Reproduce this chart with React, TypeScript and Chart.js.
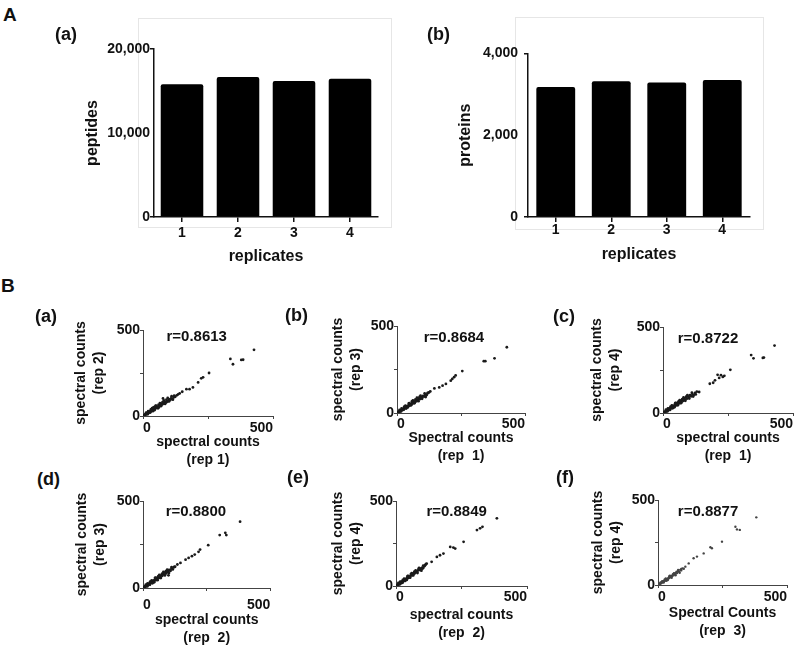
import React, { useEffect, useRef } from 'react';
import { Chart, registerables } from 'chart.js';

Chart.register(...registerables);

const FONT = "'Liberation Sans', Arial, Helvetica, sans-serif";
const INK = '#111';

// ---------- Panel A data ----------
const replicates = ['1', '2', '3', '4'];
const peptides = [15800, 16670, 16190, 16460];
const proteins = [3180, 3320, 3290, 3350];
const peptideMax = 20000;
const peptideStep = 10000;
const proteinMax = 4000;
const proteinStep = 2000;

// ---------- Panel B data (spectral counts, x = first rep, y = second rep) ----------
const rep1vs2 = [
  [427, 385], [336, 332], [346, 301], [378, 326], [385, 327], [254, 250], [231, 225], [224, 219],
  [212, 195], [192, 166], [179, 156], [167, 156], [151, 141], [141, 131], [77, 102],
  [2, 1], [3, 4], [5, 3], [6, 7], [8, 6], [9, 10], [11, 9], [12, 13], [14, 12], [15, 16], [17, 14],
  [18, 19], [20, 17], [22, 22], [24, 20], [25, 26], [27, 24], [29, 30], [31, 27], [33, 33], [35, 31],
  [37, 38], [39, 35], [41, 42], [44, 40], [46, 47], [48, 43], [51, 50], [53, 48], [56, 55], [58, 52],
  [61, 60], [64, 58], [66, 65], [69, 62], [72, 70], [75, 68], [78, 76], [81, 73], [85, 82], [88, 79],
  [92, 88], [96, 86], [100, 95], [104, 92], [108, 103], [113, 100], [118, 108], [124, 112], [130, 120],
  [135, 126], [40, 48], [60, 66], [90, 80],
  [20, 28], [28, 20], [35, 45], [45, 35], [50, 60], [58, 45], [65, 75], [70, 58], [80, 90], [85, 70],
  [95, 105], [100, 85], [110, 115], [115, 95], [30, 38], [38, 28], [55, 48], [48, 58], [75, 80],
  [90, 95], [105, 98], [120, 118], [12, 20], [18, 10], [42, 52], [62, 52]
];
const rep1vs3 = [
  [429, 378], [339, 298], [345, 298], [381, 314], [255, 241], [229, 216], [223, 206], [216, 196],
  [210, 186], [191, 167], [178, 157], [165, 147], [146, 141], [130, 124], [120, 115],
  [1, 2], [3, 2], [4, 5], [6, 4], [7, 8], [9, 7], [10, 11], [12, 10], [13, 14], [15, 13], [17, 17],
  [19, 16], [21, 21], [23, 19], [25, 25], [27, 23], [29, 29], [31, 27], [34, 33], [36, 31], [38, 38],
  [41, 36], [43, 42], [46, 40], [48, 47], [51, 45], [54, 53], [57, 50], [60, 59], [63, 56], [66, 65],
  [69, 61], [72, 70], [76, 67], [79, 77], [83, 74], [86, 84], [90, 80], [94, 91], [98, 88], [102, 98],
  [107, 95], [111, 106], [116, 103], [120, 114], [125, 118],
  [18, 26], [26, 18], [33, 42], [42, 32], [48, 57], [55, 44], [62, 72], [68, 56], [78, 88], [84, 68],
  [92, 100], [98, 82], [108, 112], [112, 92], [28, 36], [36, 26], [52, 46], [46, 55], [72, 78],
  [88, 92], [104, 96], [10, 18], [16, 9], [58, 66]
];
const rep1vs4 = [
  [429, 392], [339, 337], [348, 318], [384, 320], [388, 322], [259, 251], [236, 216], [230, 210],
  [223, 220], [210, 222], [216, 204], [200, 190], [193, 176], [180, 170], [139, 122], [126, 108],
  [2, 2], [3, 5], [5, 3], [7, 7], [8, 5], [10, 11], [12, 9], [13, 15], [15, 12], [17, 18], [19, 15],
  [21, 22], [23, 19], [25, 27], [28, 24], [30, 31], [32, 28], [35, 36], [37, 33], [40, 41], [42, 37],
  [45, 46], [48, 42], [50, 52], [53, 47], [56, 58], [59, 52], [62, 64], [65, 58], [68, 70], [71, 63],
  [74, 76], [78, 70], [81, 83], [85, 76], [88, 90], [92, 83], [96, 97], [100, 90], [104, 104],
  [109, 97], [113, 110], [118, 104], [123, 117], [130, 124],
  [19, 27], [27, 18], [34, 44], [44, 33], [49, 59], [57, 45], [64, 74], [69, 57], [79, 90], [86, 71],
  [94, 104], [101, 84], [111, 118], [116, 96], [29, 37], [37, 27], [54, 48], [47, 57], [74, 80],
  [90, 96], [106, 100], [11, 19], [17, 9], [60, 68]
];
const rep2vs3 = [
  [381, 381], [301, 304], [323, 317], [327, 304], [256, 246], [224, 221], [218, 208], [203, 192],
  [192, 183], [179, 173], [167, 163], [147, 144], [135, 135], [100, 73], [122, 121],
  [1, 1], [3, 3], [4, 6], [6, 4], [8, 8], [9, 11], [11, 9], [13, 14], [14, 12], [16, 17], [18, 15],
  [20, 21], [22, 19], [24, 25], [26, 23], [28, 29], [30, 27], [33, 34], [35, 31], [38, 39], [40, 36],
  [43, 44], [45, 41], [48, 50], [51, 46], [54, 56], [57, 52], [60, 62], [63, 58], [66, 69], [69, 64],
  [73, 76], [76, 70], [80, 83], [83, 77], [87, 90], [91, 84], [95, 97], [99, 91], [103, 104],
  [108, 99], [112, 112], [117, 107], [121, 119], [126, 122],
  [18, 27], [27, 18], [34, 44], [44, 33], [50, 60], [57, 45], [64, 75], [70, 57], [80, 92], [86, 72],
  [95, 106], [102, 86], [112, 120], [28, 37], [37, 27], [54, 48], [47, 58], [75, 82], [90, 97],
  [106, 101], [11, 19], [17, 9], [60, 68]
];
const rep2vs4 = [
  [385, 398], [309, 329], [321, 339], [330, 348], [258, 260], [226, 220], [219, 226], [207, 230],
  [181, 191], [168, 181], [156, 171], [136, 142], [117, 132],
  [1, 2], [2, 4], [4, 3], [5, 6], [7, 8], [8, 6], [10, 11], [11, 13], [13, 12], [14, 16], [16, 18],
  [18, 16], [20, 22], [22, 25], [24, 23], [26, 29], [28, 31], [30, 29], [33, 36], [35, 39], [37, 37],
  [40, 43], [42, 47], [45, 45], [47, 51], [50, 55], [53, 53], [56, 61], [59, 65], [62, 63], [65, 71],
  [68, 75], [71, 73], [75, 81], [78, 85], [81, 83], [85, 92], [89, 96], [92, 94], [96, 104],
  [100, 108], [104, 106], [108, 116], [111, 122], [114, 128],
  [16, 26], [25, 19], [31, 43], [41, 36], [46, 60], [54, 49], [60, 76], [66, 62], [75, 92], [82, 76],
  [88, 106], [97, 90], [104, 120], [26, 36], [35, 30], [52, 52], [44, 58], [70, 84], [86, 100],
  [100, 102], [9, 18], [15, 10], [57, 70]
];
const rep3vs4 = [
  [381, 398], [300, 343], [306, 327], [317, 324], [248, 255], [209, 216], [203, 222], [177, 186],
  [151, 167], [138, 157], [119, 127],
  [1, 1], [3, 3], [4, 5], [6, 5], [7, 8], [9, 8], [10, 11], [12, 11], [13, 14], [15, 14], [17, 18],
  [19, 17], [21, 22], [23, 21], [25, 26], [27, 25], [30, 31], [32, 30], [35, 36], [37, 34], [40, 41],
  [42, 40], [45, 47], [48, 45], [51, 53], [54, 51], [57, 59], [60, 57], [63, 66], [67, 63], [70, 73],
  [74, 70], [78, 81], [82, 78], [86, 89], [90, 86], [95, 98], [100, 96], [106, 108],
  [16, 22], [22, 15], [30, 38], [38, 29], [46, 54], [53, 43], [62, 70], [68, 57], [78, 88], [84, 72],
  [26, 32], [33, 25], [50, 48], [44, 52], [72, 78], [90, 94], [10, 15], [58, 64]
];
const rValues = ['r=0.8613', 'r=0.8684', 'r=0.8722', 'r=0.8800', 'r=0.8849', 'r=0.8877'];
const xTitles = [
  ['spectral counts', '(rep 1)'],
  ['Spectral counts', '(rep  1)'],
  ['spectral counts', '(rep  1)'],
  ['spectral counts', '(rep  2)'],
  ['spectral counts', '(rep  2)'],
  ['Spectral Counts', '(rep  3)']
];
const yTitles = [
  ['spectral counts', '(rep 2)'],
  ['spectral counts', '(rep 3)'],
  ['spectral counts', '(rep 4)'],
  ['spectral counts', '(rep 3)'],
  ['spectral counts', '(rep 4)'],
  ['spectral counts', '(rep 4)']
];
const countMax = 500;
const countStep = 250;

// ---------- layout helpers ----------
type Box = { L: number; T: number; R: number; B: number; yEdge: number; xH: number; pt?: number; pr?: number; pb?: number };

function frame(b: Box) {
  const padTop = b.pt ?? 10;
  const padRight = b.pr ?? 3;
  const padBottom = b.pb ?? 2;
  const cl = Math.floor(b.yEdge);
  const ct = Math.floor(b.T - padTop);
  const cw = Math.ceil(b.R + padRight) - cl;
  const ch = Math.ceil(b.B + b.xH + padBottom) - ct;
  return {
    cl, ct, cw, ch,
    padding: { left: b.yEdge - cl, top: b.T - ct, right: cl + cw - b.R, bottom: ct + ch - b.B - b.xH },
    yW: b.L - b.yEdge,
    xH: b.xH
  };
}

const rPlugin = {
  id: 'rLabel',
  afterDraw(chart: any, _args: any, opts: any) {
    const { ctx, chartArea } = chart;
    ctx.save();
    ctx.font = `bold 15px ${FONT}`;
    ctx.fillStyle = INK;
    ctx.textAlign = 'center';
    ctx.textBaseline = 'middle';
    ctx.fillText(opts.text, chartArea.left + opts.fx * (chartArea.right - chartArea.left), chartArea.top + opts.dy);
    ctx.restore();
  }
};

function ChartBox({ build, f }: { build: () => any; f: any }) {
  const ref = useRef<HTMLCanvasElement>(null);
  useEffect(() => {
    const chart = new Chart(ref.current as HTMLCanvasElement, build());
    return () => chart.destroy();
  }, []);
  return (
    <canvas
      ref={ref}
      width={f.cw}
      height={f.ch}
      style={{ position: 'absolute', left: f.cl, top: f.ct, width: f.cw, height: f.ch }}
    />
  );
}

function barConfig(values: number[], max: number, step: number, yTitle: string, f: any, o: any) {
  const tickFont = { family: FONT, size: 14, weight: 'bold' as const };
  const titleFont = { family: FONT, size: 16, weight: 'bold' as const, lineHeight: 1.2 };
  return {
    type: 'bar',
    data: {
      labels: replicates,
      datasets: [{ data: values, backgroundColor: '#000', borderRadius: 2, barPercentage: o.barPct, categoryPercentage: 1 }]
    },
    options: {
      animation: false,
      responsive: false,
      devicePixelRatio: 1,
      layout: { padding: f.padding },
      plugins: { legend: { display: false }, tooltip: { enabled: false } },
      scales: {
        x: {
          afterFit: (s: any) => { s.height = f.xH; },
          grid: { offset: false, drawOnChartArea: false, drawTicks: true, tickLength: 5, color: INK, lineWidth: 1.5 },
          border: { display: true, color: INK, width: 1.5 },
          ticks: { font: tickFont, color: INK, padding: o.xPad, maxRotation: 0 },
          title: { display: true, text: 'replicates', font: titleFont, color: INK, padding: 0 }
        },
        y: {
          min: 0,
          max,
          afterFit: (s: any) => { s.width = f.yW; },
          grid: {
            drawOnChartArea: false,
            drawTicks: true,
            tickLength: 4,
            lineWidth: 1.5,
            color: (c: any) => (c.tick && c.tick.value === step ? 'rgba(0,0,0,0)' : INK)
          },
          border: { display: true, color: INK, width: 1.5 },
          ticks: {
            stepSize: step,
            font: tickFont,
            color: INK,
            padding: o.yPad,
            callback: (v: any) => Number(v).toLocaleString('en-US')
          },
          title: { display: true, text: yTitle, font: titleFont, color: INK, padding: 0 }
        }
      }
    }
  };
}

function scatterConfig(points: number[][], idx: number, f: any, o: any) {
  const tickFont = { family: FONT, size: 14, weight: 'bold' as const, lineHeight: 1.2 };
  const titleFont = { family: FONT, size: 14, weight: 'bold' as const, lineHeight: 1.3 };
  const tickCb = (v: any) => (Number(v) === countStep ? '' : String(v));
  return {
    type: 'scatter',
    data: {
      datasets: [{
        data: points.map(([x, y]) => ({ x, y })),
        pointRadius: o.radius,
        pointBackgroundColor: o.color,
        pointBorderWidth: 0,
        pointHoverRadius: o.radius
      }]
    },
    options: {
      animation: false,
      responsive: false,
      devicePixelRatio: 1,
      layout: { padding: f.padding },
      plugins: {
        legend: { display: false },
        tooltip: { enabled: false },
        rLabel: { text: rValues[idx], fx: o.fx, dy: o.dy }
      },
      scales: {
        x: {
          type: 'linear',
          position: 'bottom',
          min: 0,
          max: countMax,
          afterFit: (s: any) => { s.height = f.xH; },
          grid: { display: true, drawOnChartArea: false, drawTicks: true, tickLength: 3, color: '#444', lineWidth: 1 },
          border: { display: true, color: '#444', width: 1 },
          ticks: { stepSize: countStep, callback: tickCb, align: 'inner', font: tickFont, color: INK, padding: o.xPad, maxRotation: 0, autoSkip: false },
          title: { display: true, text: xTitles[idx], font: titleFont, color: INK, padding: 0 }
        },
        y: {
          type: 'linear',
          position: 'left',
          min: 0,
          max: countMax,
          afterFit: (s: any) => { s.width = f.yW; },
          grid: { display: true, drawOnChartArea: false, drawTicks: true, tickLength: 3, color: '#444', lineWidth: 1 },
          border: { display: true, color: '#444', width: 1 },
          ticks: { stepSize: countStep, callback: tickCb, font: tickFont, color: INK, padding: 0, autoSkip: false },
          title: { display: true, text: yTitles[idx], font: titleFont, color: INK, padding: 0 }
        }
      }
    },
    plugins: [rPlugin]
  };
}

// geometry (pixel boxes of each plot)
const barBoxA = frame({ L: 154, T: 49, R: 378, B: 217, yEdge: 83, xH: 49.3 });
const barBoxB = frame({ L: 528, T: 49, R: 750, B: 217, yEdge: 456.4, xH: 47.6 });

const scatterSpecs = [
  { pts: rep1vs2, box: { L: 143, T: 330, R: 273, B: 416, yEdge: 71.9, xH: 53.3 }, xPad: 0.6, fx: 0.413, dy: 7, radius: 1.4, color: '#1a1a1a' },
  { pts: rep1vs3, box: { L: 397, T: 326, R: 525, B: 413, yEdge: 328.9, xH: 52.3 }, xPad: 0, fx: 0.445, dy: 12, radius: 1.4, color: '#1a1a1a' },
  { pts: rep1vs4, box: { L: 663, T: 327, R: 793, B: 413, yEdge: 587.9, xH: 52.3 }, xPad: 0, fx: 0.346, dy: 12, radius: 1.4, color: '#1a1a1a' },
  { pts: rep2vs3, box: { L: 143, T: 501, R: 273, B: 588, yEdge: 72.9, xH: 59.3, pb: 0 }, xPad: 5.6, fx: 0.415, dy: 11, radius: 1.4, color: '#1a1a1a' },
  { pts: rep2vs4, box: { L: 396, T: 501, R: 527, B: 586, yEdge: 328.9, xH: 56.3, pb: 0 }, xPad: 0, fx: 0.463, dy: 11, radius: 1.4, color: '#1a1a1a' },
  { pts: rep3vs4, box: { L: 658, T: 500, R: 787, B: 585, yEdge: 588.9, xH: 55.3, pb: 0 }, xPad: 0.6, fx: 0.388, dy: 12, radius: 1.2, color: '#444' }
];

const panelLabels = [
  { text: 'A', left: 3, top: 4.5, size: 19 },
  { text: '(a)', left: 55, top: 25, size: 18 },
  { text: '(b)', left: 427, top: 25, size: 18 },
  { text: 'B', left: 1, top: 275.5, size: 19 },
  { text: '(a)', left: 35, top: 307, size: 18 },
  { text: '(b)', left: 285, top: 306, size: 18 },
  { text: '(c)', left: 553, top: 307, size: 18 },
  { text: '(d)', left: 37, top: 470, size: 18 },
  { text: '(e)', left: 287, top: 468, size: 18 },
  { text: '(f)', left: 556, top: 468, size: 18 }
];

export default function App() {
  return (
    <div style={{ position: 'absolute', left: 0, top: 0, width: 800, height: 645, overflow: 'hidden', background: '#fff' }}>
      <div style={{ position: 'absolute', left: 138, top: 18, width: 252, height: 208, border: '1px solid #e6e6e6' }} />
      <div style={{ position: 'absolute', left: 515, top: 17, width: 247, height: 211, border: '1px solid #e6e6e6' }} />
      <ChartBox f={barBoxA} build={() => barConfig(peptides, peptideMax, peptideStep, 'peptides', barBoxA, { barPct: 0.76, xPad: 2.6, yPad: 0 })} />
      <ChartBox f={barBoxB} build={() => barConfig(proteins, proteinMax, proteinStep, 'proteins', barBoxB, { barPct: 0.7, xPad: 0, yPad: 6 })} />
      {scatterSpecs.map((s, i) => {
        const f = frame(s.box);
        return <ChartBox key={i} f={f} build={() => scatterConfig(s.pts, i, f, s)} />;
      })}
      {panelLabels.map((p, i) => (
        <div
          key={i}
          style={{
            position: 'absolute',
            left: p.left,
            top: p.top,
            fontFamily: FONT,
            fontWeight: 'bold',
            fontSize: p.size,
            lineHeight: 1,
            color: INK,
            whiteSpace: 'pre'
          }}
        >
          {p.text}
        </div>
      ))}
    </div>
  );
}
